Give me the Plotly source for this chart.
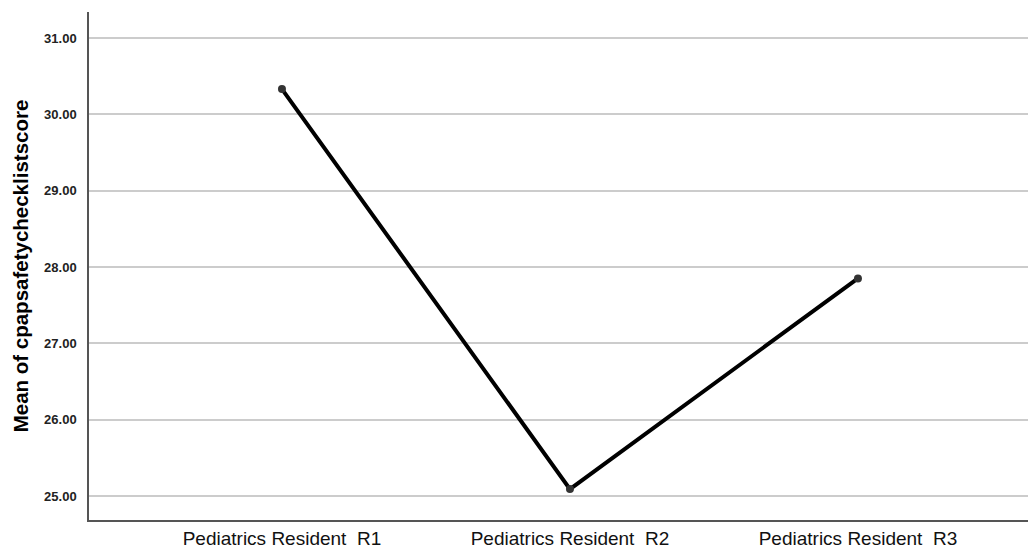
import plotly.graph_objects as go

categories = ["Pediatrics Resident\u00a0 R1", "Pediatrics Resident\u00a0 R2", "Pediatrics Resident\u00a0 R3"]
means = [30.33, 25.09, 27.85]
y_ticks = [25, 26, 27, 28, 29, 30, 31]
y_tick_labels = ["25.00", "26.00", "27.00", "28.00", "29.00", "30.00", "31.00"]

fig = go.Figure()
fig.add_trace(go.Scatter(
    x=[0, 1, 2], y=means, mode="lines+markers",
    line=dict(color="black", width=4),
    marker=dict(color="#333333", size=8),
    showlegend=False,
))

# page body has an 8px default margin, so the figure is offset by 8px
fig.update_layout(
    width=1036, height=541,
    margin=dict(l=81, r=0, t=4, b=22),
    paper_bgcolor="white", plot_bgcolor="white",
    font=dict(family="Arial, Liberation Sans, sans-serif", color="black"),
)
fig.update_xaxes(
    range=[-0.67, 2.646],
    tickvals=[0, 1, 2], ticktext=categories,
    tickfont=dict(size=19, color="#111111"),
    showgrid=False, zeroline=False,
    showline=True, linecolor="#555555", linewidth=1.5,
    ticks="",
)
fig.update_yaxes(
    range=[24.685, 31.34],
    tickvals=y_ticks, ticktext=["<b>%s</b>" % t for t in y_tick_labels],
    tickfont=dict(size=13, color="#222222"),
    showgrid=True, gridcolor="#cccccc", gridwidth=1.5,
    zeroline=False,
    showline=True, linecolor="#555555", linewidth=1.5,
    ticks="", ticklabelstandoff=8,
    title=dict(text="<b>Mean of cpapsafetychecklistscore</b>", font=dict(size=20.5, color="black"), standoff=10),
)

fig.write_html("out.html")
